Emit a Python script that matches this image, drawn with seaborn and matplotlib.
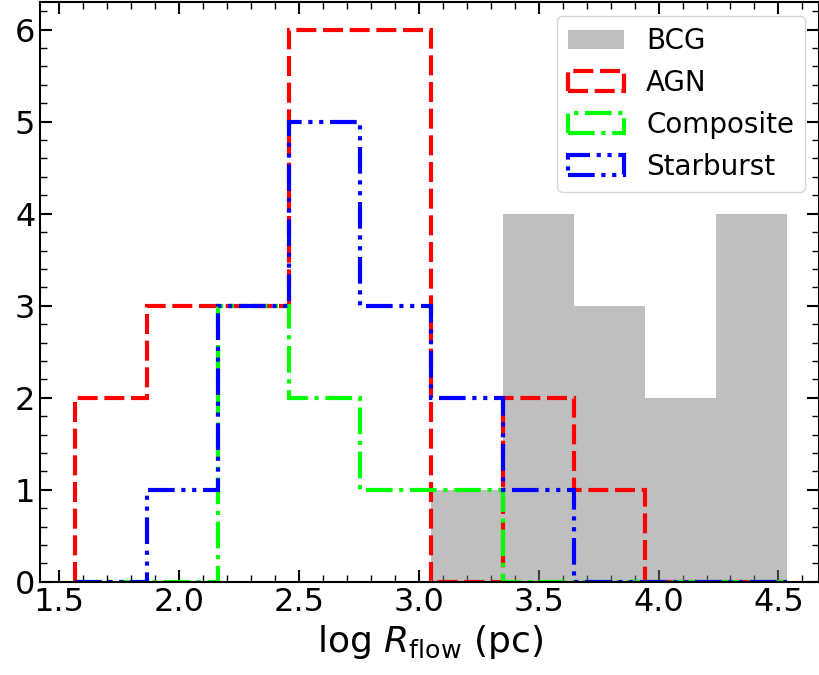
import numpy as np
import pandas as pd
import matplotlib
matplotlib.use("Agg")
import matplotlib.pyplot as plt
import seaborn as sns

# bin edges in log R_flow (pc)
edges = [1.567, 1.864, 2.161, 2.458, 2.755, 3.052, 3.349, 3.646, 3.943, 4.240, 4.537]
centers = [(a + b) / 2 for a, b in zip(edges[:-1], edges[1:])]

# counts per bin
bcg = [0, 0, 0, 0, 0, 1, 4, 3, 2, 4]
agn = [2, 3, 3, 6, 6, 0, 2, 1, 0, 0]
composite = [0, 0, 3, 2, 1, 1, 0, 0, 0, 0]
starburst = [0, 1, 3, 5, 3, 2, 1, 0, 0, 0]

sns.set_style("ticks", rc={"axes.edgecolor": "black", "text.color": "black",
                           "axes.labelcolor": "black", "xtick.color": "black",
                           "ytick.color": "black"})
plt.rcParams["font.family"] = ["DejaVu Sans"]
plt.rcParams["mathtext.fontset"] = "dejavusans"

fig = plt.figure(figsize=(8.2, 6.75), dpi=100)
ax = fig.add_axes([0.049, 0.138, 0.950, 0.859])

df_bcg = pd.DataFrame({"x": centers, "n": bcg})
sns.histplot(data=df_bcg, x="x", weights="n", bins=edges, color="gray",
             alpha=0.5, linewidth=0, ax=ax, label="BCG")

ax.hist(centers, bins=edges, weights=agn, histtype="step", color="red",
        lw=3, linestyle=(0, (4.8, 1.6)), label="AGN")
ax.hist(centers, bins=edges, weights=composite, histtype="step", color="lime",
        lw=3, linestyle="-.", label="Composite")
ax.hist(centers, bins=edges, weights=starburst, histtype="step", color="blue",
        lw=3, linestyle=(0, (6.4, 1.6, 1, 1.6, 1, 1.6)), label="Starburst")

ax.set_xlim(1.42, 4.67)
ax.set_ylim(0, 6.3)
ax.set_xticks([1.5, 2.0, 2.5, 3.0, 3.5, 4.0, 4.5])
ax.set_xticks(np.arange(1.5, 4.65, 0.1), minor=True)
ax.set_yticks(range(0, 7))
ax.set_yticks(np.arange(0, 6.3, 0.2), minor=True)
ax.tick_params(which="both", direction="in", top=True, right=True, labelsize=23)
ax.tick_params(which="major", length=8.5, width=1.5)
ax.tick_params(which="minor", length=5, width=1)
for s in ax.spines.values():
    s.set_linewidth(1.5)

ax.set_xlabel(r"log $R_{\rm flow}$ (pc)", fontsize=26, labelpad=4)
ax.set_ylabel("")

handles, labels = ax.get_legend_handles_labels()
order = [labels.index(k) for k in ["BCG", "AGN", "Composite", "Starburst"]]
ax.legend([handles[i] for i in order], [labels[i] for i in order],
          loc="upper right", fontsize=20)

fig.savefig("out.png", dpi=100)
